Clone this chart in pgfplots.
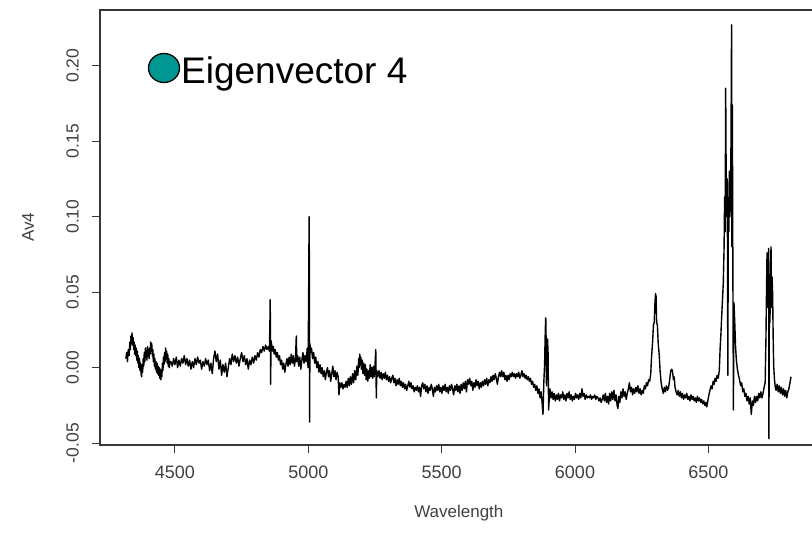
\documentclass[border=0pt]{standalone}
\usepackage{fontspec}
\setmainfont{Liberation Sans}
\usepackage{pgfplots}
\pgfplotsset{compat=1.18}

\definecolor{teal4}{RGB}{0,150,146}
\definecolor{axisgray}{RGB}{55,55,55}

\begin{document}
\begin{tikzpicture}
\useasboundingbox (0,0) rectangle (812pt,-533pt);
\clip (0,0) rectangle (812pt,-533pt);
\begin{axis}[
  at={(100pt,-445pt)}, anchor=south west,
  width=717.7pt, height=435pt, scale only axis,
  xmin=4219, xmax=6910, ymin=-0.0512, ymax=0.2368,
  xtick={4500,5000,5500,6000,6500},
  ytick={-0.05,0,0.05,0.10,0.15,0.20},
  xtick pos=left, ytick pos=left, tick align=outside,
  major tick length=8pt,
  tick style={axisgray, line width=1pt},
  axis line style={axisgray, line width=1.3pt},
  /pgf/number format/assume math mode=true,
  xticklabel style={/pgf/number format/1000 sep={}, font=\fontsize{18}{20}\selectfont,
    text=black!75, anchor=north, inner sep=0pt, yshift=-13pt},
  yticklabel style={/pgf/number format/fixed, /pgf/number format/fixed zerofill,
    /pgf/number format/precision=2, font=\fontsize{17.5}{19}\selectfont,
    text=black!75, rotate=90, anchor=south, inner sep=0pt, yshift=13pt},
  xlabel={Wavelength}, ylabel={Av4},
  xlabel style={at={(axis description cs:0.5,0)}, anchor=center, yshift=-68pt,
    font=\fontsize{17}{19}\selectfont, text=black!75},
  ylabel style={at={(axis description cs:0,0.5)}, anchor=center, yshift=72pt,
    font=\fontsize{17}{19}\selectfont, text=black!75},
  clip=true,
]
\addplot[black, line width=1.4pt, line join=round] coordinates {
(4316,0.006)(4319,0.010)(4322,0.004)(4325,0.012)(4328,0.008)(4331,0.017)(4333,0.012)(4335,0.021)
(4337,0.016)(4339,0.023)(4341,0.015)(4343,0.020)(4345,0.012)(4347,0.017)(4349,0.009)(4351,0.015)
(4353,0.008)(4355,0.013)(4357,0.005)(4359,0.011)(4361,0.003)(4363,0.008)(4365,0.000)(4367,0.006)
(4369,-0.002)(4371,0.003)(4373,-0.004)(4375,-0.006)(4377,0.002)(4379,-0.003)(4381,0.006)(4383,0.001)
(4385,0.010)(4387,0.004)(4389,0.013)(4391,0.007)(4393,0.011)(4395,0.005)(4397,0.014)(4399,0.009)
(4401,0.012)(4403,0.006)(4405,0.013)(4407,0.009)(4409,0.017)(4411,0.011)(4413,0.016)(4415,0.008)
(4417,0.012)(4419,0.004)(4421,0.009)(4423,0.001)(4425,0.006)(4427,-0.001)(4429,0.004)(4431,-0.003)
(4433,0.003)(4435,-0.004)(4437,0.001)(4439,-0.005)(4441,0.000)(4443,-0.007)(4445,-0.001)(4447,-0.008)
(4449,-0.002)(4451,-0.006)(4453,0.003)(4455,-0.002)(4457,0.007)(4459,0.002)(4461,0.010)(4463,0.004)
(4465,0.013)(4467,0.006)(4469,0.011)(4471,0.003)(4473,0.009)(4475,0.001)(4477,0.006)(4479,0.000)
(4481,0.004)
(4485,0.004)(4490,0.001)(4495,0.006)(4500,0.002)(4505,0.007)(4510,0.000)(4515,0.005)(4520,0.001)
(4525,0.006)(4530,0.003)(4535,0.008)(4540,0.002)(4545,0.006)(4550,0.001)(4555,0.005)(4560,-0.001)
(4565,0.004)(4570,0.000)(4575,0.006)(4580,0.002)(4585,0.007)(4590,0.003)(4595,0.005)(4600,-0.001)
(4605,0.004)(4610,0.001)(4615,0.006)(4620,0.002)(4625,0.005)(4630,-0.002)(4635,0.003)(4640,-0.004)
(4645,0.006)(4650,0.011)(4655,0.004)(4660,0.009)(4665,-0.001)(4670,0.005)(4675,-0.005)(4680,0.002)
(4685,-0.003)(4690,0.003)(4695,-0.006)(4700,0.000)(4705,0.006)(4710,0.002)(4715,0.009)(4720,0.004)
(4725,0.008)(4730,0.003)(4735,0.007)(4740,0.001)(4745,0.006)(4750,0.010)(4755,0.004)(4760,0.008)
(4765,0.002)(4770,0.006)(4775,-0.001)(4780,0.005)(4785,0.002)(4790,0.007)(4795,0.003)(4800,0.008)
(4805,0.005)(4810,0.010)(4815,0.007)(4820,0.012)(4825,0.010)(4830,0.014)(4835,0.011)(4840,0.015)
(4845,0.012)(4850,0.014)(4854,0.011)
(4856,0.028)(4857,0.045)(4858,0.030)(4859,-0.011)(4860,0.018)(4863,0.015)(4866,0.011)(4869,0.014)
(4872,0.009)(4876,0.012)(4880,0.007)(4884,0.010)(4888,0.005)(4892,0.008)(4896,0.002)(4900,0.005)
(4904,-0.001)(4908,0.003)(4912,-0.003)(4916,0.002)(4920,0.006)(4924,0.001)(4928,0.007)(4932,0.002)
(4936,0.009)(4940,0.003)(4944,0.008)(4948,0.001)(4952,0.006)(4955,0.021)(4957,0.004)(4960,0.008)
(4964,0.001)(4968,0.007)(4972,-0.001)(4976,0.005)(4980,0.010)(4984,0.003)(4988,0.008)(4992,0.004)
(4996,0.013)(4999,0.000)(5001,0.039)(5002,0.067)(5003,0.100)(5004,0.070)(5005,-0.036)(5006,0.016)
(5009,0.010)(5012,0.013)(5016,0.006)(5020,0.010)(5024,0.003)(5028,0.007)(5032,0.000)(5036,0.004)
(5040,-0.003)(5044,0.002)(5048,-0.004)(5052,0.000)(5056,-0.006)(5060,-0.002)(5064,-0.008)(5068,-0.003)
(5072,0.000)(5076,-0.006)(5080,-0.002)(5084,-0.009)(5088,-0.004)(5092,0.001)(5096,-0.006)(5100,-0.002)
(5104,-0.008)(5108,-0.003)(5112,-0.006)(5115,-0.018)(5118,-0.010)(5122,-0.013)(5126,-0.010)(5130,-0.014)
(5134,-0.011)(5138,-0.013)(5142,-0.009)(5146,-0.013)(5150,-0.007)(5154,-0.012)(5158,-0.006)(5162,-0.011)
(5166,-0.004)(5170,-0.010)(5174,-0.002)(5178,-0.008)(5182,0.001)(5186,-0.005)(5189,0.006)(5191,0.000)
(5193,0.009)(5195,0.002)(5197,0.007)(5199,-0.001)(5202,0.005)(5205,-0.004)(5208,0.003)(5211,-0.005)
(5214,0.002)(5217,-0.008)(5220,-0.001)(5223,-0.009)(5226,-0.002)(5229,-0.007)(5232,0.002)(5235,-0.006)
(5238,0.000)(5241,-0.007)(5244,0.001)(5247,-0.006)(5250,0.001)(5253,0.012)
(5255,-0.020)(5257,-0.002)(5261,-0.006)(5265,-0.002)(5269,-0.007)(5273,-0.003)(5277,-0.008)(5281,-0.004)
(5285,-0.007)(5289,-0.003)(5293,-0.008)(5297,-0.005)(5301,-0.009)(5305,-0.006)(5309,-0.010)(5313,-0.007)
(5317,-0.005)(5321,-0.010)(5325,-0.007)(5329,-0.012)(5333,-0.008)(5337,-0.011)(5341,-0.007)(5345,-0.012)
(5349,-0.009)(5353,-0.013)(5357,-0.010)(5361,-0.014)(5365,-0.011)(5369,-0.015)(5373,-0.012)(5377,-0.009)
(5381,-0.013)(5385,-0.010)(5389,-0.014)(5393,-0.012)(5397,-0.016)(5401,-0.013)(5405,-0.015)(5409,-0.012)
(5413,-0.016)(5417,-0.013)(5421,-0.019)(5425,-0.012)(5429,-0.010)(5433,-0.014)(5437,-0.011)(5441,-0.016)
(5445,-0.012)(5449,-0.017)(5453,-0.013)(5457,-0.015)(5461,-0.011)(5465,-0.014)(5469,-0.019)(5473,-0.013)
(5477,-0.016)(5481,-0.012)(5485,-0.015)(5489,-0.011)(5493,-0.016)(5497,-0.013)(5501,-0.017)(5505,-0.012)
(5509,-0.015)(5513,-0.011)(5517,-0.016)(5521,-0.013)(5525,-0.017)(5529,-0.012)(5533,-0.015)(5537,-0.011)
(5541,-0.014)(5545,-0.018)(5549,-0.012)(5553,-0.015)(5557,-0.011)(5561,-0.016)(5565,-0.012)(5569,-0.017)
(5573,-0.011)(5577,-0.015)(5581,-0.010)(5585,-0.014)(5589,-0.009)(5593,-0.016)(5597,-0.008)(5601,-0.011)
(5605,-0.007)(5609,-0.012)(5613,-0.009)(5617,-0.015)(5621,-0.010)(5625,-0.013)(5629,-0.008)(5633,-0.012)
(5637,-0.009)(5641,-0.014)(5645,-0.010)(5649,-0.013)(5653,-0.009)(5657,-0.012)(5661,-0.008)(5665,-0.011)
(5669,-0.007)(5673,-0.012)(5677,-0.008)(5681,-0.010)(5685,-0.006)(5689,-0.009)(5693,-0.005)(5697,-0.008)
(5701,-0.004)(5705,-0.007)(5709,-0.011)(5713,-0.006)(5717,-0.003)(5721,-0.006)(5725,-0.002)(5729,-0.006)
(5733,-0.003)(5737,-0.008)(5741,-0.005)(5745,-0.009)(5749,-0.005)(5753,-0.008)(5757,-0.004)(5761,-0.006)
(5765,-0.003)(5769,-0.006)(5773,-0.004)(5777,-0.007)(5781,-0.004)(5785,-0.006)(5789,-0.003)(5793,-0.007)
(5797,-0.005)(5801,-0.002)(5805,-0.006)(5809,-0.004)(5813,-0.007)(5817,-0.005)(5821,-0.008)(5825,-0.006)
(5829,-0.009)(5833,-0.007)(5837,-0.011)(5841,-0.009)(5845,-0.013)(5849,-0.011)(5853,-0.015)(5857,-0.012)
(5861,-0.017)(5865,-0.014)(5869,-0.020)(5873,-0.016)(5877,-0.024)(5880,-0.031)(5883,-0.010)(5886,0.002)
(5888,0.020)(5890,0.033)(5891,0.031)(5893,-0.012)(5895,0.010)(5897,0.019)(5899,0.010)(5901,-0.028)
(5903,-0.022)(5906,-0.014)(5910,-0.020)(5914,-0.016)(5918,-0.021)
(5922,-0.017)(5926,-0.022)(5930,-0.018)(5934,-0.021)(5938,-0.017)(5942,-0.022)(5946,-0.018)(5950,-0.020)
(5954,-0.016)(5958,-0.021)(5962,-0.018)(5966,-0.022)(5970,-0.017)(5974,-0.020)(5978,-0.016)(5982,-0.021)
(5986,-0.018)(5990,-0.022)(5994,-0.019)(5998,-0.021)(6002,-0.017)(6006,-0.020)(6010,-0.018)(6014,-0.021)
(6018,-0.017)(6022,-0.020)(6026,-0.014)(6030,-0.019)(6034,-0.017)(6038,-0.021)(6042,-0.018)(6046,-0.020)
(6050,-0.019)(6054,-0.020)(6058,-0.018)(6062,-0.021)(6066,-0.019)(6070,-0.020)(6074,-0.018)(6078,-0.021)
(6082,-0.019)(6086,-0.020)(6090,-0.022)(6094,-0.020)(6098,-0.023)(6102,-0.021)(6106,-0.018)(6110,-0.022)
(6114,-0.017)(6118,-0.023)(6122,-0.019)(6126,-0.024)(6130,-0.017)(6134,-0.022)(6138,-0.016)(6142,-0.021)
(6146,-0.015)(6150,-0.022)(6154,-0.018)(6158,-0.025)(6161,-0.027)(6164,-0.019)(6168,-0.023)(6172,-0.016)
(6176,-0.020)(6180,-0.014)(6184,-0.019)(6188,-0.016)(6192,-0.021)(6196,-0.017)(6200,-0.014)(6204,-0.010)
(6208,-0.016)(6212,-0.013)(6216,-0.018)(6220,-0.014)(6224,-0.017)(6228,-0.013)(6232,-0.016)(6236,-0.012)
(6240,-0.017)(6244,-0.014)(6248,-0.018)(6252,-0.015)(6256,-0.017)(6260,-0.012)(6264,-0.014)(6268,-0.010)
(6272,-0.012)(6276,-0.008)(6280,-0.009)(6284,-0.004)(6287,0.007)(6291,0.017)(6294,0.028)(6297,0.030)
(6300,0.044)(6302,0.049)(6304,0.047)(6306,0.030)(6309,0.028)(6312,0.016)(6316,0.008)(6319,-0.002)
(6323,-0.010)(6327,-0.014)(6331,-0.017)(6335,-0.013)(6339,-0.016)(6343,-0.012)(6347,-0.015)(6351,-0.013)
(6355,-0.008)(6359,-0.002)(6363,-0.001)(6366,-0.003)(6369,-0.008)(6372,-0.006)(6375,-0.013)(6379,-0.016)
(6383,-0.018)(6387,-0.015)(6391,-0.019)(6395,-0.016)(6399,-0.020)(6403,-0.017)(6407,-0.021)(6411,-0.018)
(6415,-0.020)(6419,-0.017)(6423,-0.021)(6427,-0.019)(6431,-0.022)(6435,-0.018)(6439,-0.021)(6443,-0.019)
(6447,-0.022)(6451,-0.020)(6455,-0.023)(6459,-0.019)(6463,-0.022)(6467,-0.020)(6471,-0.023)(6475,-0.021)
(6479,-0.024)(6483,-0.022)(6487,-0.025)(6491,-0.023)(6494,-0.026)(6498,-0.022)(6502,-0.018)(6506,-0.015)
(6510,-0.012)(6514,-0.014)(6518,-0.009)(6522,-0.011)(6525,-0.007)(6529,-0.009)(6533,-0.005)(6537,-0.007)
(6541,-0.002)(6544,0.012)(6547,0.022)(6550,0.034)(6553,0.045)(6556,0.056)(6559,0.080)(6561,0.113)
(6563,0.090)(6565,0.185)(6567,0.120)(6569,0.100)(6571,0.125)(6573,-0.005)(6575,0.110)(6577,0.090)
(6579,0.130)(6581,0.100)(6583,0.120)(6585,0.150)(6587,0.227)(6588,0.080)(6590,0.174)(6592,0.060)
(6594,-0.028)(6596,0.043)(6599,0.030)(6602,0.014)(6605,0.005)(6609,-0.001)(6613,-0.005)(6617,-0.008)
(6621,-0.012)(6625,-0.010)(6629,-0.016)(6633,-0.014)(6637,-0.019)(6641,-0.017)(6645,-0.022)(6649,-0.019)
(6653,-0.024)(6657,-0.020)(6661,-0.031)(6665,-0.022)(6669,-0.025)(6673,-0.019)(6677,-0.023)(6681,-0.019)
(6685,-0.022)(6689,-0.017)(6693,-0.020)(6697,-0.016)(6701,-0.020)(6705,-0.017)(6709,-0.013)(6713,-0.010)
(6716,0.020)(6718,0.050)(6720,0.076)(6722,0.040)(6724,0.070)(6726,0.079)(6727,-0.047)(6729,0.050)
(6731,0.030)(6733,0.065)(6735,0.080)(6737,0.040)(6739,0.060)(6741,0.049)(6743,0.020)(6745,0.001)
(6748,-0.008)(6751,-0.013)(6754,-0.015)(6758,-0.011)(6762,-0.016)(6766,-0.012)(6770,-0.017)(6774,-0.013)
(6778,-0.018)(6782,-0.014)(6786,-0.019)(6790,-0.015)(6794,-0.020)(6798,-0.016)(6802,-0.014)(6806,-0.010)
(6810,-0.006)
};
\end{axis}
\draw[fill=teal4, draw=black, line width=1.3pt] (164pt,-68pt) ellipse [x radius=15.5pt, y radius=14.5pt];
\node[anchor=base west, inner sep=0pt, font=\fontsize{37}{40}\selectfont] at (181pt,-83pt) {Eigenvector 4};
\end{tikzpicture}
\end{document}
